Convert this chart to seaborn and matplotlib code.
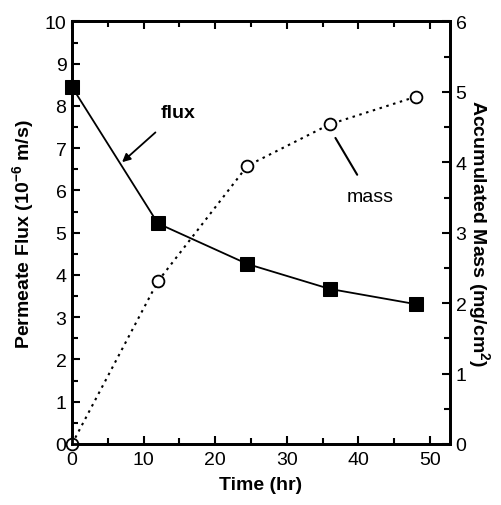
import numpy as np
import pandas as pd
import matplotlib.pyplot as plt
import seaborn as sns
from matplotlib.ticker import MultipleLocator

# values
time_flux = [0, 12, 24.5, 36, 48]
flux = [8.45, 5.22, 4.26, 3.67, 3.31]          # 10^-6 m/s
time_mass = [0, 12, 24.5, 36, 48]
mass = [0.0, 2.31, 3.95, 4.54, 4.93]           # mg/cm2

sns.set_style('ticks')
plt.rcParams['font.family'] = ['Liberation Sans', 'DejaVu Sans']
plt.rcParams['mathtext.default'] = 'regular'
plt.rcParams['text.color'] = 'black'
plt.rcParams['axes.labelcolor'] = 'black'
plt.rcParams['xtick.color'] = 'black'
plt.rcParams['ytick.color'] = 'black'
plt.rcParams['axes.edgecolor'] = 'black'

df_flux = pd.DataFrame({'t': time_flux, 'flux': flux})
df_mass = pd.DataFrame({'t': time_mass, 'mass': mass})

fig = plt.figure(figsize=(5.01, 5.06), dpi=100)
ax = fig.add_axes([0.1437, 0.1206, 0.7545, 0.835])
ax2 = ax.twinx()

sns.lineplot(data=df_flux, x='t', y='flux', ax=ax, color='black', lw=1.3,
             marker='s', markersize=9.5, markeredgecolor='black', markerfacecolor='black')
sns.lineplot(data=df_mass, x='t', y='mass', ax=ax2, color='black', lw=1.5,
             linestyle=(0, (1.2, 2.2)), marker='o', markersize=8.5,
             markerfacecolor='white', markeredgecolor='black', markeredgewidth=1.3)
ax2.lines[0].set_clip_on(False)
ax.lines[0].set_clip_on(False)

ax.set_xlim(0, 52.8)
ax.set_ylim(0, 10)
ax2.set_ylim(0, 6)

ax.xaxis.set_major_locator(MultipleLocator(10))
ax.xaxis.set_minor_locator(MultipleLocator(5))
ax.yaxis.set_major_locator(MultipleLocator(1))
ax.yaxis.set_minor_locator(MultipleLocator(0.5))
ax2.yaxis.set_major_locator(MultipleLocator(1))
ax2.yaxis.set_minor_locator(MultipleLocator(0.5))

for a in (ax, ax2):
    for s in a.spines.values():
        s.set_linewidth(2)
        s.set_color('black')
        s.set_visible(True)
    a.tick_params(which='both', direction='in', width=1.5, labelsize=14, pad=4, colors='black')
    a.tick_params(which='major', length=6)
    a.tick_params(which='minor', length=4)
ax.tick_params(top=True, which='both')
ax.tick_params(axis='x', pad=5)

ax.set_xlabel('Time (hr)', fontsize=14, fontweight='bold', labelpad=6)
ax.set_ylabel('Permeate Flux (10$^{-6}$ m/s)', fontsize=14, fontweight='bold', labelpad=6)
ax2.set_ylabel('Accumulated Mass (mg/cm$^{2}$)', fontsize=14, fontweight='bold',
               rotation=270, labelpad=18)

ax.annotate('flux', xy=(7.0, 6.67), xytext=(14.8, 7.85), fontsize=14, fontweight='bold',
            ha='center', va='center',
            arrowprops=dict(arrowstyle='-|>', color='black', lw=1.3,
                            shrinkA=9, shrinkB=0, mutation_scale=12))
ax2.annotate('mass', xy=(36.6, 4.38), xytext=(41.6, 3.52), fontsize=14,
             ha='center', va='center',
             arrowprops=dict(arrowstyle='-', color='black', lw=1.5, shrinkA=8, shrinkB=2))

plt.savefig('out.png', dpi=100)
